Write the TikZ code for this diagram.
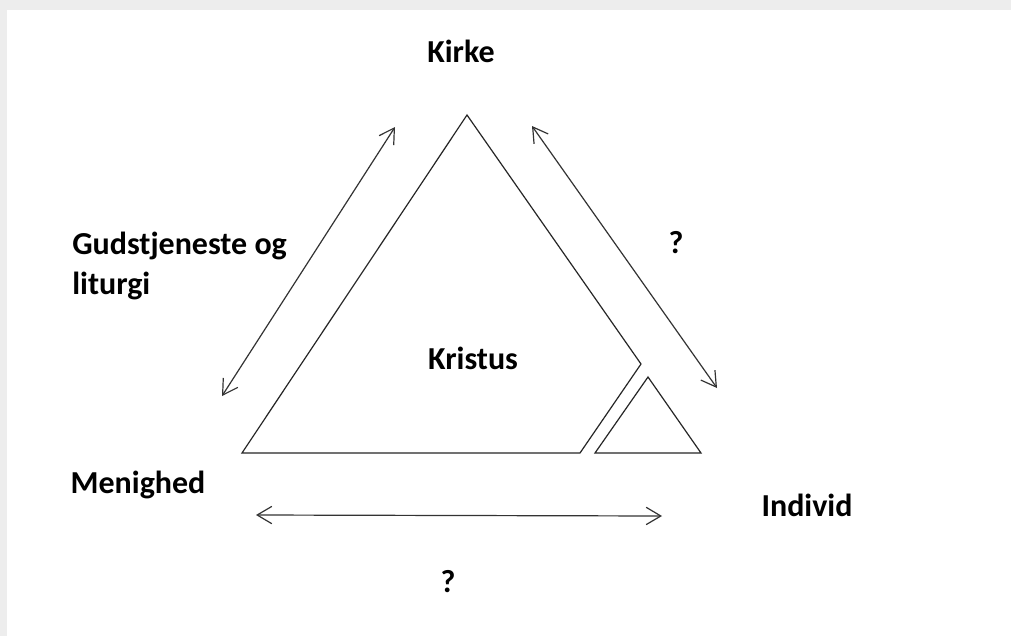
\documentclass[tikz,border=0pt]{standalone}
\usepackage{fontspec}
\setmainfont{Carlito}
\usetikzlibrary{arrows.meta}
\tikzset{
  lbl/.style={font=\bfseries\fontsize{24}{29.3}\selectfont, inner sep=0pt},
  rel/.style={draw=black!80, line width=0.9pt, {Straight Barb[length=11pt, width=13pt, line width=0.9pt]}-{Straight Barb[length=11pt, width=13pt, line width=0.9pt]}},
  tri/.style={draw=black!85, line width=0.9pt, line join=miter}
}
\begin{document}
\begin{tikzpicture}[x=0.75pt, y=-0.75pt]
		% Frame (screenshot edge)
		\fill[black!7] (0,0) rectangle (1011,636);
		\fill[white] (7,10) rectangle (1011,636);
		\useasboundingbox (0,0) rectangle (1011,636);

		% Labels
		\node[lbl] (kirke) at (461,51) {Kirke};
		\node[lbl, align=left, anchor=west] (gud) at (72,266) {Gudstjeneste og\\liturgi};
		\node[lbl] (q1) at (676,243) {?};
		\node[lbl] (kristus) at (473,358) {Kristus};
		\node[lbl] (menighed) at (138,485) {Menighed};
		\node[lbl] (individ) at (807,505) {Individ};
		\node[lbl] (q2) at (448,582) {?};

		% Triangles: Kristus with a notch, and the individual
		\draw[tri] (580,453) -- (242,453) -- (467,115) -- (641,364) -- cycle;
		\draw[tri] (595,453) -- (701,453) -- (648,377) -- cycle;

		% Arrow ends
		\coordinate (gudA) at (222,396);
		\coordinate (gudB) at (395,127);
		\coordinate (indA) at (532,126);
		\coordinate (indB) at (717,388);
		\coordinate (menA) at (256,515);
		\coordinate (menB) at (662,516);

		% Relations
		\draw[rel] (gudA) -- (gudB);
		\draw[rel] (indA) -- (indB);
		\draw[rel] (menA) -- (menB);
\end{tikzpicture}
\end{document}
